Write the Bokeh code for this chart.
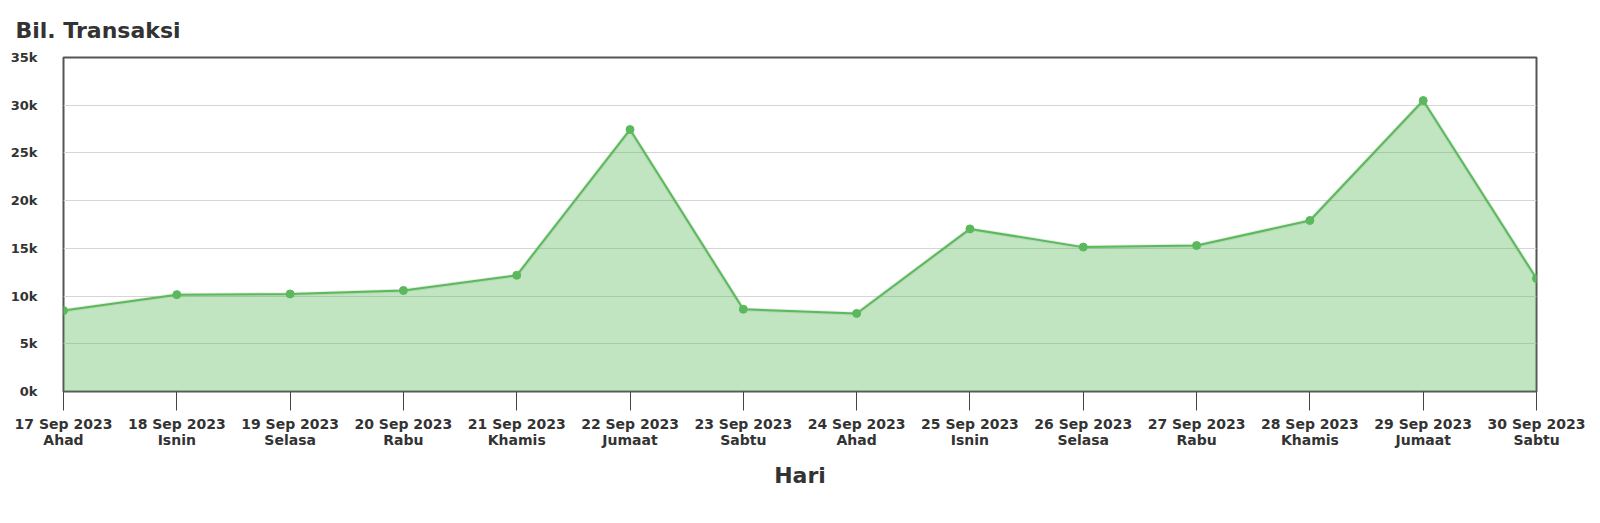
from bokeh.plotting import figure
from bokeh.models import Range1d, FixedTicker, ColumnDataSource
from bokeh.embed import file_html
from bokeh.resources import INLINE

dates = ["17 Sep 2023", "18 Sep 2023", "19 Sep 2023", "20 Sep 2023", "21 Sep 2023",
         "22 Sep 2023", "23 Sep 2023", "24 Sep 2023", "25 Sep 2023", "26 Sep 2023",
         "27 Sep 2023", "28 Sep 2023", "29 Sep 2023", "30 Sep 2023"]
days = ["Ahad", "Isnin", "Selasa", "Rabu", "Khamis", "Jumaat", "Sabtu",
        "Ahad", "Isnin", "Selasa", "Rabu", "Khamis", "Jumaat", "Sabtu"]
transactions = [8480, 10150, 10220, 10590, 12180, 27450, 8620,
                8180, 17040, 15130, 15300, 17920, 30490, 11840]
y_ticks = [0, 5000, 10000, 15000, 20000, 25000, 30000, 35000]
y_labels = ["0k", "5k", "10k", "15k", "20k", "25k", "30k", "35k"]

idx = list(range(len(dates)))
src = ColumnDataSource(dict(x=idx, y=transactions, y0=[0] * len(idx)))

FONT = "DejaVu Sans"
TXT = "#333333"
GREEN = "#5cb85c"

p = figure(width=1592, height=515, output_backend="svg", toolbar_location=None,
           x_range=Range1d(0, len(idx) - 1), y_range=Range1d(0, 35000),
           frame_width=1473, frame_height=334,
           min_border_left=63, min_border_right=56, min_border_top=57, min_border_bottom=124,
           title="Bil. Transaksi")

p.title.text_font = FONT
p.title.text_font_size = "22px"
p.title.text_font_style = "bold"
p.title.text_color = TXT
p.title.align = "left"
p.title.offset = -48
p.title.standoff = 30

p.outline_line_color = "#555555"
p.outline_line_width = 2
p.background_fill_color = "white"
p.border_fill_color = "white"

p.varea(x="x", y1="y0", y2="y", source=src, fill_color=GREEN, fill_alpha=0.38)
p.line(x="x", y="y", source=src, line_color="#3a8a3a", line_width=4, line_alpha=0.12)
p.line(x="x", y="y", source=src, line_color=GREEN, line_width=2)
p.scatter(x="x", y="y", source=src, size=8, fill_color=GREEN, line_color=GREEN)

p.xgrid.grid_line_color = None
p.ygrid.grid_line_color = "#d6d6d6"
p.ygrid.grid_line_width = 1

xa = p.xaxis[0]
xa.ticker = FixedTicker(ticks=idx)
xa.major_label_overrides = {i: f"{d}\n{w}" for i, (d, w) in enumerate(zip(dates, days))}
xa.major_label_text_font = FONT
xa.major_label_text_font_size = "14px"
xa.major_label_text_font_style = "bold"
xa.major_label_text_color = TXT
xa.major_label_text_line_height = 1.0
xa.major_label_standoff = 5
xa.major_tick_out = 19
xa.major_tick_in = 0
xa.major_tick_line_color = "#444444"
xa.minor_tick_line_color = None
xa.axis_line_color = None
xa.axis_label = "Hari"
xa.axis_label_text_font = FONT
xa.axis_label_text_font_size = "22px"
xa.axis_label_text_font_style = "bold"
xa.axis_label_text_color = TXT
xa.axis_label_standoff = 12

ya = p.yaxis[0]
ya.ticker = FixedTicker(ticks=y_ticks)
ya.major_label_overrides = {t: l for t, l in zip(y_ticks, y_labels)}
ya.major_label_text_font = FONT
ya.major_label_text_font_size = "13px"
ya.major_label_text_font_style = "bold"
ya.major_label_text_color = TXT
ya.major_label_standoff = 20
ya.major_tick_line_color = None
ya.minor_tick_line_color = None
ya.axis_line_color = None

open("out.html", "w").write(file_html(p, INLINE))
